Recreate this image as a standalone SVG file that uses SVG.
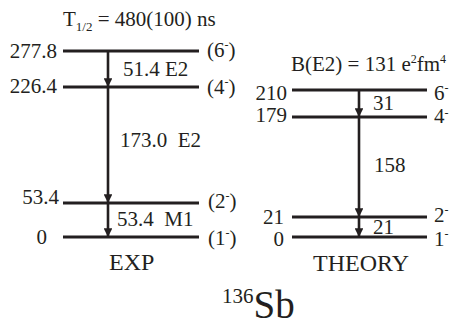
<svg xmlns="http://www.w3.org/2000/svg" width="452" height="328" viewBox="0 0 452 328">
<defs>
<style>
text{font-family:"Liberation Serif","Times New Roman",serif;font-size:21px;fill:#231f20}
.lvl{stroke:#231f20;stroke-width:3;fill:none}
.arr{stroke:#231f20;stroke-width:2.6;fill:none}
.e{text-anchor:end}
.sup{font-size:12px}
.big{font-size:24px}
</style>
<marker id="ah" viewBox="0 0 10 10" refX="10" refY="5" markerWidth="3.4" markerHeight="3.4" orient="auto" markerUnits="strokeWidth">
<path d="M0,0 L10,5 L0,10 z" fill="#231f20"/>
</marker>
</defs>
<rect width="452" height="328" fill="#ffffff"/>
<text x="63" y="26">T<tspan font-size="13" dy="5">1/2</tspan><tspan dy="-5"> = 480(100) ns</tspan></text>
<text x="291" y="71" font-size="20.5">B(E2) = 131 e<tspan class="sup" dy="-8">2</tspan><tspan dy="8">fm</tspan><tspan class="sup" dy="-8">4</tspan></text>
<g id="exp-levels">
<g id="exp-2778"><line class="lvl" x1="63" y1="51" x2="199" y2="51"/><text class="e" x="57" y="58">277.8</text><text x="207" y="57">(6<tspan class="sup" dy="-8">-</tspan><tspan dy="8">)</tspan></text></g>
<g id="exp-2264"><line class="lvl" x1="63" y1="87" x2="199" y2="87"/><text class="e" x="57" y="93">226.4</text><text x="207" y="94">(4<tspan class="sup" dy="-8">-</tspan><tspan dy="8">)</tspan></text></g>
<g id="exp-534"><line class="lvl" x1="63" y1="203" x2="199" y2="203"/><text class="e" x="59" y="204">53.4</text><text x="208" y="208">(2<tspan class="sup" dy="-8">-</tspan><tspan dy="8">)</tspan></text></g>
<g id="exp-0"><line class="lvl" x1="63" y1="237" x2="199" y2="237"/><text class="e" x="47" y="244">0</text><text x="208" y="245">(1<tspan class="sup" dy="-8">-</tspan><tspan dy="8">)</tspan></text></g>
<text class="big" x="109" y="270">EXP</text>
</g>
<g id="th-levels">
<g id="th-210"><line class="lvl" x1="292" y1="90" x2="427" y2="90"/><text class="e" x="287" y="100">210</text><text x="434" y="100">6<tspan class="sup" dy="-8">-</tspan></text></g>
<g id="th-179"><line class="lvl" x1="292" y1="117" x2="427" y2="117"/><text class="e" x="287" y="122">179</text><text x="434" y="123">4<tspan class="sup" dy="-6">-</tspan></text></g>
<g id="th-21"><line class="lvl" x1="292" y1="217" x2="427" y2="217"/><text class="e" x="284" y="224">21</text><text x="434" y="222">2<tspan class="sup" dy="-8">-</tspan></text></g>
<g id="th-0"><line class="lvl" x1="292" y1="237" x2="427" y2="237"/><text class="e" x="284" y="246">0</text><text x="434" y="246">1<tspan class="sup" dy="-8">-</tspan></text></g>
<text class="big" x="313" y="271">THEORY</text>
</g>
<g id="connectors">
<line class="arr" x1="108" y1="51" x2="108" y2="87" marker-end="url(#ah)"/>
<line class="arr" x1="108" y1="87" x2="108" y2="203" marker-end="url(#ah)"/>
<line class="arr" x1="108" y1="203" x2="108" y2="237" marker-end="url(#ah)"/>
<line class="arr" x1="359" y1="90" x2="359" y2="117" marker-end="url(#ah)"/>
<line class="arr" x1="359" y1="117" x2="359" y2="217" marker-end="url(#ah)"/>
<line class="arr" x1="359" y1="217" x2="359" y2="237" marker-end="url(#ah)"/>
<text x="123" y="76">51.4 E2</text>
<text x="120" y="147" xml:space="preserve">173.0  E2</text>
<text x="117" y="226" xml:space="preserve">53.4  M1</text>
<text x="373" y="110">31</text>
<text x="374" y="172">158</text>
<text x="373" y="234">21</text>
</g>
<text x="222" y="303" font-size="27">136<tspan font-size="39" dy="15">Sb</tspan></text>
</svg>
